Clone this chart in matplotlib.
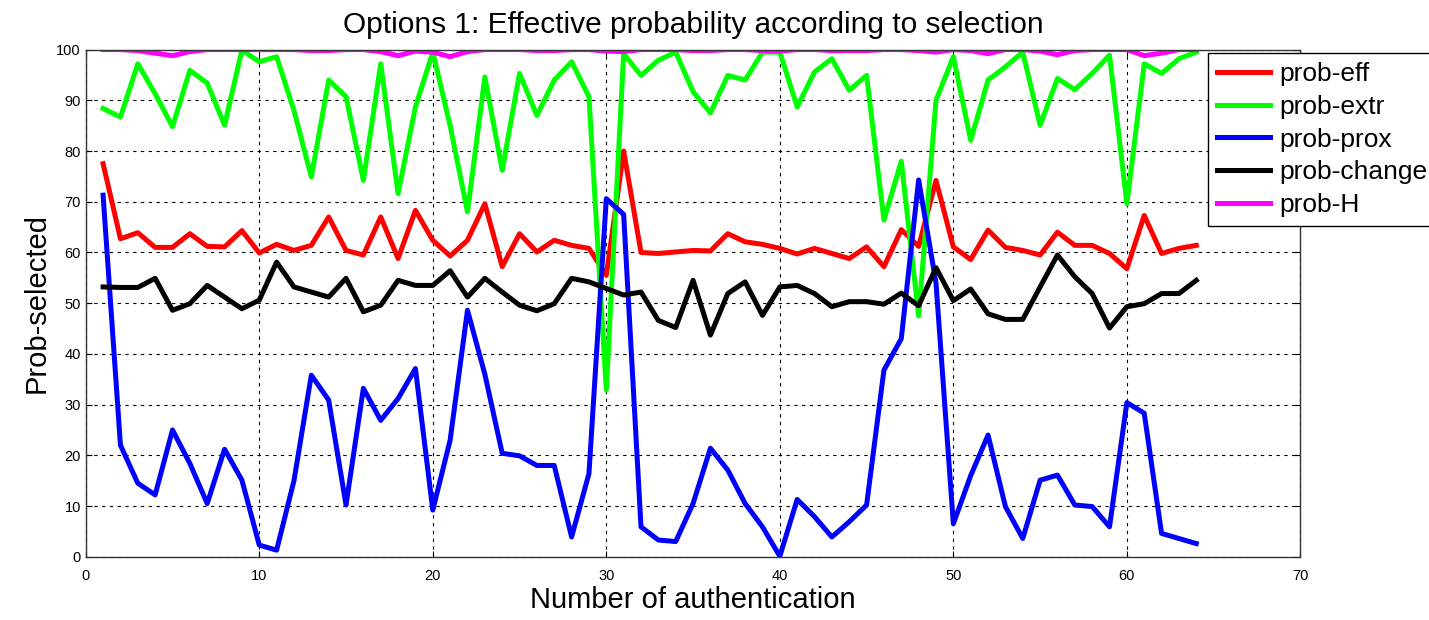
import numpy as np
import matplotlib
matplotlib.use("Agg")
import matplotlib.pyplot as plt

plt.rcParams['font.family'] = ['Liberation Sans', 'DejaVu Sans']

# Number of authentication (x axis)
auth = list(range(1, 65))

prob_eff = [77.5, 62.7, 63.9, 61.0, 61.0, 63.7, 61.2, 61.1, 64.3, 59.9,
            61.6, 60.4, 61.4, 67.0, 60.4, 59.5, 67.0, 58.8, 68.3, 62.4,
            59.3, 62.4, 69.6, 57.2, 63.7, 60.1, 62.4, 61.4, 60.8, 55.5,
            80.0, 60.0, 59.8, 60.1, 60.4, 60.3, 63.7, 62.1, 61.6, 60.8,
            59.7, 60.8, 59.8, 58.8, 61.1, 57.2, 64.5, 61.2, 74.2, 61.1,
            58.6, 64.4, 61.0, 60.4, 59.5, 64.0, 61.4, 61.4, 59.8, 56.8,
            67.3, 59.8, 60.8, 61.4]

prob_extr = [88.4, 86.7, 97.2, 91.3, 84.8, 95.9, 93.4, 85.1, 99.9, 97.6,
             98.6, 88.0, 74.9, 94.0, 90.7, 74.2, 97.2, 71.6, 88.7, 99.5,
             85.0, 68.0, 94.6, 76.2, 95.3, 87.0, 94.0, 97.6, 90.7, 32.9,
             99.2, 94.9, 97.9, 99.5, 91.7, 87.5, 94.9, 94.0, 99.5, 99.5,
             88.7, 95.6, 98.2, 92.0, 94.9, 66.4, 78.0, 47.5, 90.0, 98.6,
             82.1, 94.0, 96.6, 99.5, 85.1, 94.3, 92.1, 95.3, 98.9, 69.6,
             97.2, 95.3, 98.2, 99.5]

prob_prox = [71.3, 22.0, 14.5, 12.2, 25.0, 18.4, 10.5, 21.2, 15.1, 2.3,
             1.3, 15.0, 35.8, 30.9, 10.2, 33.2, 26.9, 31.2, 37.1, 9.2,
             23.0, 48.6, 36.0, 20.4, 19.9, 18.0, 18.0, 3.9, 16.4, 70.6,
             67.5, 5.9, 3.3, 3.0, 10.5, 21.4, 17.1, 10.5, 5.9, 0.1,
             11.3, 7.9, 3.9, 6.9, 10.2, 36.8, 43.0, 74.3, 54.0, 6.5,
             16.0, 24.0, 9.9, 3.6, 15.1, 16.1, 10.2, 9.9, 5.9, 30.4,
             28.3, 4.6, 3.6, 2.6]

prob_change = [53.2, 53.1, 53.1, 54.9, 48.6, 49.9, 53.5, 51.2, 48.9, 50.6,
               58.1, 53.2, 52.2, 51.2, 54.9, 48.3, 49.6, 54.5, 53.5, 53.5,
               56.4, 51.2, 54.9, 52.2, 49.6, 48.5, 49.9, 54.9, 54.2, 52.9,
               51.6, 52.2, 46.6, 45.2, 54.5, 43.7, 51.9, 54.2, 47.6, 53.2,
               53.5, 51.9, 49.3, 50.3, 50.3, 49.8, 52.0, 49.5, 57.0, 50.5,
               52.8, 47.9, 46.8, 46.8, 53.2, 59.5, 55.2, 51.9, 45.1, 49.3,
               49.9, 51.9, 51.9, 54.5]

prob_H = [100.0, 100.0, 99.8, 99.3, 98.8, 99.6, 100.0, 100.0, 100.0, 100.0,
          100.0, 100.0, 99.8, 99.8, 100.0, 100.0, 99.6, 98.8, 99.7, 99.5,
          98.6, 99.6, 100.0, 100.0, 100.0, 99.8, 99.8, 100.0, 100.0, 99.7,
          99.6, 100.0, 100.0, 100.0, 99.8, 99.8, 100.0, 100.0, 99.8, 99.7,
          100.0, 100.0, 99.8, 99.8, 99.8, 100.0, 100.0, 99.8, 99.5, 100.0,
          99.8, 99.2, 100.0, 100.0, 99.7, 99.0, 99.8, 100.0, 100.0, 100.0,
          98.8, 99.3, 100.0, 100.0]

series = [
    ("prob-eff", prob_eff, "#ff0000"),
    ("prob-extr", prob_extr, "#00ff00"),
    ("prob-prox", prob_prox, "#0000ff"),
    ("prob-change", prob_change, "#000000"),
    ("prob-H", prob_H, "#ff00ff"),
]

fig = plt.figure(figsize=(14.29, 6.2), dpi=100)
ax = fig.add_axes([0.060, 0.102, 0.850, 0.818])

for name, vals, col in series:
    ax.plot(auth, vals, color=col, lw=3.6, label=name, solid_joinstyle='round')

ax.set_xlim(0, 70)
ax.set_ylim(0, 100)
ax.set_xticks(np.arange(0, 71, 10))
ax.set_yticks(np.arange(0, 101, 10))
ax.tick_params(direction='in', labelsize=10.5, length=4, top=True, right=True)
ax.tick_params(axis='x', pad=9)
ax.grid(True, color='black', linestyle=(0, (3, 4)), lw=0.8)
for sp in ax.spines.values():
    sp.set_color('#333333')
    sp.set_linewidth(1.0)

ax.set_title("Options 1: Effective probability according to selection", fontsize=21.5, pad=12)
ax.set_xlabel("Number of authentication", fontsize=21, labelpad=2)
ax.set_ylabel("Prob-selected", fontsize=21, labelpad=4)

leg = fig.legend(loc='upper left', bbox_to_anchor=(0.8453, 0.9145), fontsize=19,
                 frameon=True, fancybox=False, edgecolor='black', framealpha=1,
                 borderaxespad=0, handlelength=2.0, borderpad=0.35,
                 labelspacing=0.33, handletextpad=0.35)
leg.get_frame().set_linewidth(1.0)
for line in leg.get_lines():
    line.set_linewidth(3.6)

fig.savefig("out.png", dpi=100)
